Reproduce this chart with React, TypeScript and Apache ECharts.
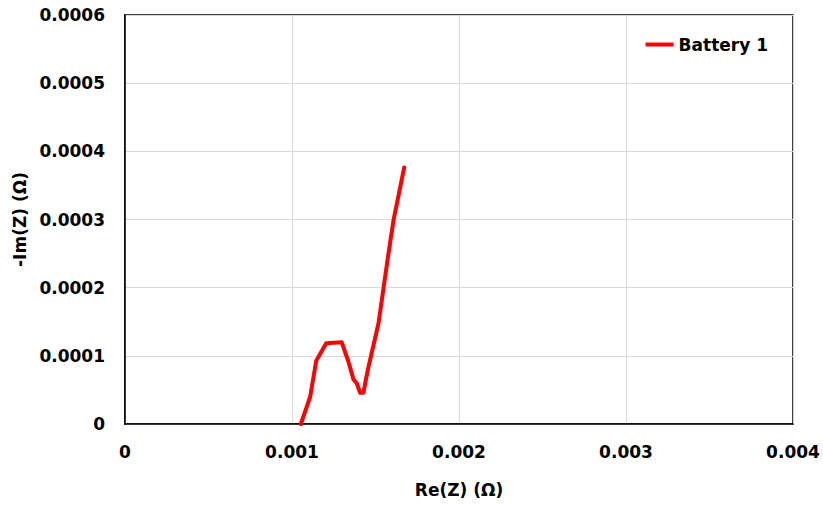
import React, { useEffect, useRef } from "react";
import * as echarts from "echarts";

const reZ = [0.001053, 0.001109, 0.001145, 0.001205, 0.001298, 0.001338, 0.001368, 0.001388, 0.001408, 0.001428, 0.001438, 0.001454, 0.001472, 0.001518, 0.001538, 0.001572, 0.001608, 0.001672];
const negImZ = [0.0, 0.00004, 0.0000928, 0.0001183, 0.0001198, 0.0000913, 0.0000655, 0.0000597, 0.0000459, 0.0000459, 0.0000597, 0.0000792, 0.0000987, 0.0001477, 0.0001818, 0.0002405, 0.0002991, 0.0003764];
const seriesName = "Battery 1";
const xTickLabels: Record<string, string> = { "0": "0", "0.001": "0.001", "0.002": "0.002", "0.003": "0.003", "0.004": "0.004" };

const FONT = "'DejaVu Sans', 'Noto Sans', sans-serif";
const FS = 17;

export default function App() {
  const ref = useRef<HTMLDivElement>(null);
  useEffect(() => {
    if (!ref.current) return;
    const chart = echarts.init(ref.current, undefined, { renderer: "svg" });
    const data = reZ.map((x, i) => [x, negImZ[i]]);
    chart.setOption({
      animation: false,
      backgroundColor: "#ffffff",
      textStyle: { fontFamily: FONT },
      grid: { left: 125, right: 30, top: 15, bottom: 81, show: true, borderColor: "#000", borderWidth: 1.5, containLabel: false },
      legend: {
        show: true,
        right: 50,
        top: 31,
        itemWidth: 28,
        itemHeight: 4,
        itemGap: 4,
        icon: "rect",
        textStyle: { fontFamily: FONT, fontSize: FS, fontWeight: "bold", color: "#000" },
        data: [{ name: seriesName, icon: "rect" }],
      },
      xAxis: {
        type: "value",
        min: 0,
        max: 0.004,
        interval: 0.001,
        name: "Re(Z) (Ω)",
        nameLocation: "middle",
        nameGap: 57,
        nameTextStyle: { fontFamily: FONT, fontSize: FS, fontWeight: "bold", color: "#000" },
        axisLine: { show: true, lineStyle: { color: "#000", width: 1.5 } },
        axisTick: { show: false },
        axisLabel: {
          fontFamily: FONT, fontSize: FS, fontWeight: "bold", color: "#000", margin: 19,
          formatter: (v: number) => xTickLabels[String(+v.toFixed(4))] ?? String(+v.toFixed(4)),
        },
        splitLine: { show: true, lineStyle: { color: "#d9d9d9", width: 1 } },
      },
      yAxis: {
        type: "value",
        min: 0,
        max: 0.0006,
        interval: 0.0001,
        name: "-Im(Z) (Ω)",
        nameLocation: "middle",
        nameGap: 97,
        nameRotate: 90,
        nameTextStyle: { fontFamily: FONT, fontSize: FS, fontWeight: "bold", color: "#000" },
        axisLine: { show: true, lineStyle: { color: "#000", width: 1.5 } },
        axisTick: { show: false },
        axisLabel: {
          fontFamily: FONT, fontSize: FS, fontWeight: "bold", color: "#000", margin: 20,
          formatter: (v: number) => String(+v.toFixed(4)),
        },
        splitLine: { show: true, lineStyle: { color: "#d9d9d9", width: 1 } },
      },
      series: [
        {
          name: seriesName,
          type: "line",
          data,
          showSymbol: false,
          symbol: "none",
          smooth: false,
          lineStyle: { color: "#ff0000", width: 4, cap: "round", join: "round" },
          itemStyle: { color: "#ff0000" },
        },
      ],
    });
    return () => chart.dispose();
  }, []);
  return <div ref={ref} style={{ position: "fixed", left: 0, top: 0, width: 823, height: 505 }} />;
}
